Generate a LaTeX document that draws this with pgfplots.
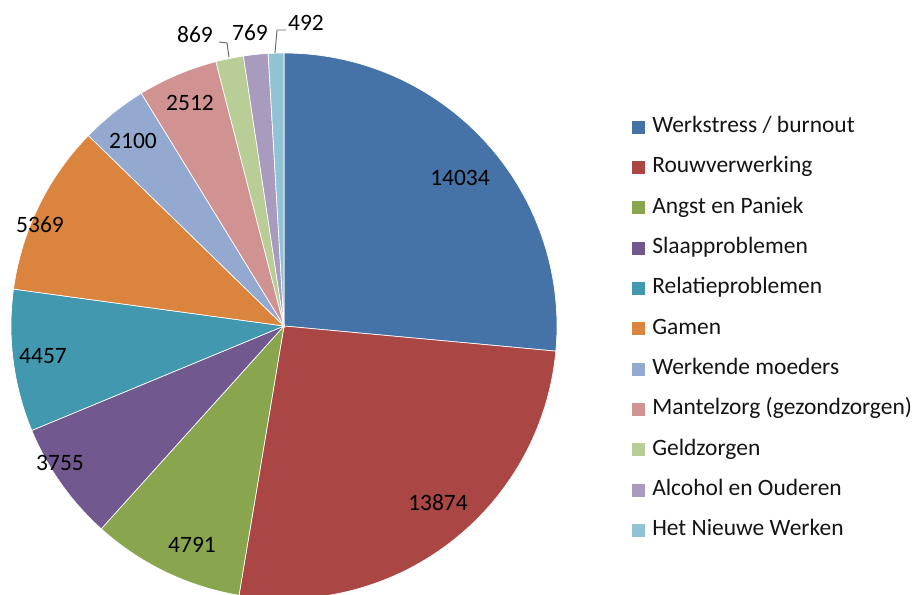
\documentclass[border=0pt]{standalone}
\usepackage{fontspec}
\setmainfont{Carlito}
\usepackage{pgfplots}
\pgfplotsset{compat=1.18}

\definecolor{c1}{RGB}{69,114,167}
\definecolor{c2}{RGB}{170,70,67}
\definecolor{c3}{RGB}{137,165,78}
\definecolor{c4}{RGB}{113,88,143}
\definecolor{c5}{RGB}{65,152,175}
\definecolor{c6}{RGB}{219,132,61}
\definecolor{c7}{RGB}{147,169,207}
\definecolor{c8}{RGB}{209,147,146}
\definecolor{c9}{RGB}{185,205,150}
\definecolor{c10}{RGB}{169,155,189}
\definecolor{c11}{RGB}{146,195,213}

% total of all values, in thousands (53022)
\def\total{53.022}
\def\cf{0}
% pie centre and radius, in pixels of the reference
\def\cx{284}\def\cy{268}\def\rr{273}

% #1 value, #2 colour, #3 legend text
\newcommand\slice[3]{%
  \pgfmathsetmacro\angA{90-360*\cf}%
  \pgfmathsetmacro\fnew{\cf+(#1/1000)/\total}%
  \pgfmathsetmacro\angB{90-360*\fnew}%
  \xdef\cf{\fnew}%
  \addplot[fill=#2, draw=white, line width=0.5pt, domain=\angB:\angA, samples=80, variable=\t]
    ({\cx+\rr*cos(\t)}, {\cy+\rr*sin(\t)}) -- (axis cs:\cx,\cy) -- cycle;
  \addlegendentry{#3}
}

\begin{document}
\fontsize{17.6}{21}\selectfont
\begin{tikzpicture}
\useasboundingbox (0,0) rectangle (688.5pt,445.5pt);
\begin{axis}[
    at={(0,0)}, anchor=south west,
    x=0.75pt, y=0.75pt,
    xmin=0, xmax=918, ymin=0, ymax=594,
    hide axis,
    clip=true,
    legend cell align=left,
    legend image code/.code={\fill[#1, draw=none] (0pt,-4.9pt) rectangle (9.75pt,4.9pt);},
    legend style={
        at={(axis cs:632,478.5)}, anchor=north west,
        draw=none, fill=none, inner sep=0pt,
        font=\fontsize{17.6}{21}\selectfont, text=black!92,
        row sep=13.25pt,
        nodes={inner ysep=0pt, inner xsep=5.25pt, text height=12.5pt, text depth=4.5pt},
    },
]
\slice{14034}{c1}{Werkstress / burnout}
\slice{13874}{c2}{Rouwverwerking}
\slice{4791}{c3}{Angst en Paniek}
\slice{3755}{c4}{Slaapproblemen}
\slice{4457}{c5}{Relatieproblemen}
\slice{5369}{c6}{Gamen}
\slice{2100}{c7}{Werkende moeders}
\slice{2512}{c8}{Mantelzorg (gezondzorgen)}
\slice{869}{c9}{Geldzorgen}
\slice{769}{c10}{Alcohol en Ouderen}
\slice{492}{c11}{Het Nieuwe Werken}

\node at (axis cs:460,416) {14034};
\node at (axis cs:438,91) {13874};
\node at (axis cs:192,49) {4791};
\node at (axis cs:60,131) {3755};
\node at (axis cs:43,238) {4457};
\node at (axis cs:40,369) {5369};
\node at (axis cs:133,453) {2100};
\node at (axis cs:190,491) {2512};
\node at (axis cs:195,559) {869};
\node at (axis cs:250,561) {769};
\node at (axis cs:306,571) {492};
\draw[black!60, line width=0.7pt] (axis cs:219,552) -- (axis cs:227,551) -- (axis cs:229,537);
\draw[black!60, line width=0.7pt] (axis cs:286,564) -- (axis cs:277,564) -- (axis cs:275,541);
\end{axis}
\end{tikzpicture}
\end{document}
